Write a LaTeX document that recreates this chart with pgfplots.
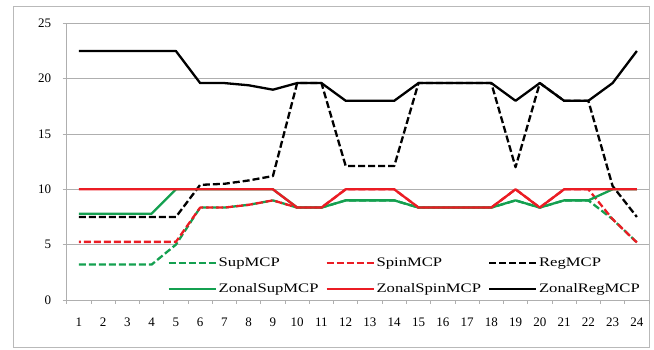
\documentclass[border=0pt]{standalone}
\usepackage{pgfplots}
\pgfplotsset{compat=1.18}
\usepackage{pgfplotstable}
\usepackage{fontspec}
\setmainfont{Liberation Serif}
\newfontfamily\legfont{Liberation Serif}[FakeStretch=1.28]
\definecolor{xlgreen}{RGB}{20,160,80}
\definecolor{xlred}{RGB}{235,28,36}
\definecolor{gridgray}{RGB}{175,175,175}

\pgfplotstableread{
x Sup Spin Reg ZSup ZSpin ZReg
1 3.2 5.25 7.5 7.8 10 22.5
2 3.2 5.25 7.5 7.8 10 22.5
3 3.2 5.25 7.5 7.8 10 22.5
4 3.2 5.25 7.5 7.8 10 22.5
5 5.0 5.25 7.5 10 10 22.5
6 8.35 8.35 10.4 10 10 19.6
7 8.35 8.35 10.5 10 10 19.6
8 8.6 8.6 10.8 10 10 19.4
9 9.0 9.0 11.2 10 10 19.0
10 8.35 8.35 19.6 8.35 8.35 19.6
11 8.35 8.35 19.6 8.35 8.35 19.6
12 9 10 12.1 9 10 18
13 9 10 12.1 9 10 18
14 9 10 12.1 9 10 18
15 8.35 8.35 19.6 8.35 8.35 19.6
16 8.35 8.35 19.6 8.35 8.35 19.6
17 8.35 8.35 19.6 8.35 8.35 19.6
18 8.35 8.35 19.6 8.35 8.35 19.6
19 9 10 12.0 9 10 18
20 8.35 8.35 19.6 8.35 8.35 19.6
21 9 10 18 9 10 18
22 9 10 18 9 10 18
23 7.3 7.3 10.3 10 10 19.6
24 5.2 5.2 7.5 10 10 22.5
}\datatable

\begin{document}
\begin{tikzpicture}
\path (-66.7pt,-50pt) rectangle (587.3pt,300pt);
\draw[gray!55, line width=0.8pt] (-53.7pt,294pt) rectangle (582.3pt,-47pt);
\begin{axis}[
  at={(0pt,0pt)}, anchor=south west,
  scale only axis, width=582.3pt, height=276.7pt,
  xmin=0.5, xmax=24.5, ymin=0, ymax=25,
  axis x line*=bottom, axis y line*=left,
  axis line style={-, gridgray, line width=0.8pt},
  ytick={0,5,...,25},
  xtick={0.5,1.5,...,24.5}, xticklabels={},
  extra x ticks={1,2,...,24},
  extra x tick style={major tick length=0pt, grid=none},
  tick align=outside, major tick length=4pt,
  tick style={gridgray, line width=0.8pt},
  ymajorgrids, grid style={gridgray, line width=0.8pt},
  /pgf/number format/assume math mode=true,
  every tick label/.append style={font=\fontsize{13}{15}\selectfont},
  yticklabel style={xshift=-8pt},
  xticklabel style={yshift=-14pt},
  every axis plot/.append style={line width=2.3pt, line join=round},
  legend columns=3,
  legend cell align=left,
  legend style={draw=none, fill=none, at={(0.168,0.168)}, anchor=north west,
    font=\legfont\fontsize{13}{15}\selectfont, row sep=12pt,
    /tikz/every even column/.append style={column sep=5pt},
    /tikz/every odd column/.append style={column sep=0pt}},
  legend image code/.code={\draw[#1, dash phase=0pt, line width=2pt] (0pt,0pt) -- (47pt,0pt);},
]
\addplot[xlgreen, dash pattern=on 7pt off 3pt] table[x=x, y=Sup] {\datatable};
\addlegendentry{SupMCP}
\addplot[xlred, dash pattern=on 7pt off 3pt, dash phase=5pt] table[x=x, y=Spin] {\datatable};
\addlegendentry{SpinMCP}
\addplot[black, dash pattern=on 7pt off 3pt] table[x=x, y=Reg] {\datatable};
\addlegendentry{RegMCP}
\addplot[xlgreen] table[x=x, y=ZSup] {\datatable};
\addlegendentry{ZonalSupMCP}
\addplot[xlred] table[x=x, y=ZSpin] {\datatable};
\addlegendentry{ZonalSpinMCP}
\addplot[black] table[x=x, y=ZReg] {\datatable};
\addlegendentry{ZonalRegMCP}
\end{axis}
\end{tikzpicture}
\end{document}
